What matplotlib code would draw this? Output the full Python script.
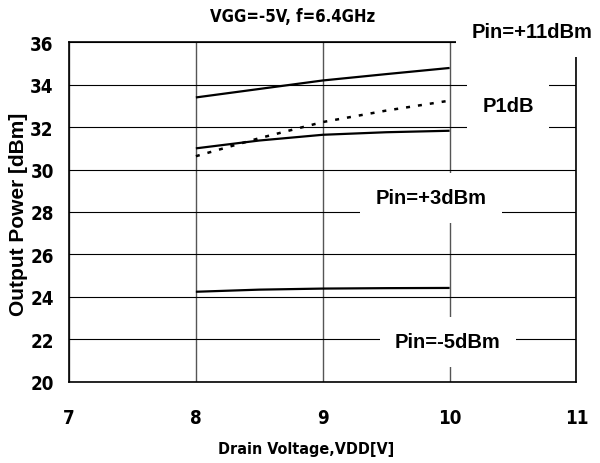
import matplotlib
matplotlib.use("Agg")
import matplotlib.pyplot as plt
from matplotlib import font_manager
from matplotlib.font_manager import FontProperties

# ---- data ----
vdd = [8, 8.5, 9, 9.5, 10]
pin_p11 = [33.40, 33.80, 34.20, 34.50, 34.79]
p1db = [30.63, 31.48, 32.24, 32.78, 33.25]
pin_p3 = [31.00, 31.37, 31.64, 31.76, 31.83]
pin_m5 = [24.24, 24.34, 24.39, 24.41, 24.42]
xticks = [7, 8, 9, 10, 11]
yticks = [20, 22, 24, 26, 28, 30, 32, 34, 36]

title = "VGG=-5V, f=6.4GHz"
xlabel = "Drain Voltage,VDD[V]"
ylabel = "Output Power [dBm]"


def find_condensed():
    for fam in ["Liberation Sans Narrow", "Arial Narrow", "DejaVu Sans",
                "Noto Sans", "Open Sans", "Roboto"]:
        for st in ["condensed", "semi-condensed"]:
            try:
                p = font_manager.findfont(
                    FontProperties(family=fam, weight="bold", stretch=st),
                    fallback_to_default=False)
            except Exception:
                continue
            low = p.lower()
            if "condensed" in low or "narrow" in low:
                return p
    for f in font_manager.fontManager.ttflist:
        low = f.fname.lower()
        if ("narrow" in low or "condensed" in low) and "bold" in low \
                and "italic" not in low and "oblique" not in low:
            return f.fname
    return None


cpath = find_condensed()
if cpath:
    def nfont(size):
        return FontProperties(fname=cpath, size=size)
    tick_size, title_size, xl_size = 13.5, 12, 11.5
else:
    def nfont(size):
        return FontProperties(family="Liberation Sans", weight="bold", size=size)
    tick_size, title_size, xl_size = 13, 12.5, 12

wide = "Liberation Sans"

fig = plt.figure(figsize=(6, 4.64), dpi=100)
ax = fig.add_axes([0.115, 0.1752, 0.8458, 0.7315])

ax.plot(vdd, pin_p11, color="black", lw=1.6, solid_capstyle="butt", zorder=4)
ax.plot(vdd, pin_p3, color="black", lw=1.6, solid_capstyle="butt", zorder=4)
ax.plot(vdd, pin_m5, color="black", lw=1.6, solid_capstyle="butt", zorder=4)
ax.plot(vdd, p1db, color="black", lw=1.8, linestyle=(0, (1.6, 3.2)), zorder=4)

ax.set_xlim(7, 11)
ax.set_ylim(20, 36)
ax.set_xticks(xticks)
ax.set_yticks(yticks)
ax.set_xticklabels([str(t) for t in xticks], fontproperties=nfont(tick_size))
ax.set_yticklabels([str(t) for t in yticks], fontproperties=nfont(tick_size))
ax.tick_params(axis="both", length=0)
ax.tick_params(axis="x", pad=19)
ax.tick_params(axis="y", pad=11)

ax.grid(True, axis="y", color="black", lw=0.8)
ax.grid(True, axis="x", color="#555555", lw=1.0)
ax.set_axisbelow(True)
for s in ax.spines.values():
    s.set_linewidth(1.2)
    s.set_color("black")

fig.text(306 / 600, 1 - 450 / 464, xlabel, fontproperties=nfont(xl_size),
         ha="center", va="center")
fig.text(19 / 600, 1 - 214 / 464, ylabel, fontfamily=wide, fontweight="bold",
         fontsize=15, rotation=90, ha="center", va="center")
fig.text(293 / 600, 1 - 17 / 464, title, fontproperties=nfont(title_size),
         ha="center", va="center")

box = dict(boxstyle="square,pad=0.75", facecolor="white", edgecolor="none")


def label(xpix, ypix, s):
    fig.text(xpix / 600, 1 - ypix / 464, s, fontfamily=wide, fontweight="bold",
             fontsize=14.5, ha="center", va="center", bbox=box, zorder=10)


label(532, 33, "Pin=+11dBm")
label(508, 107, "P1dB")
label(431, 199, "Pin=+3dBm")
label(448, 343, "Pin=-5dBm")

fig.savefig("out.png", dpi=100)
